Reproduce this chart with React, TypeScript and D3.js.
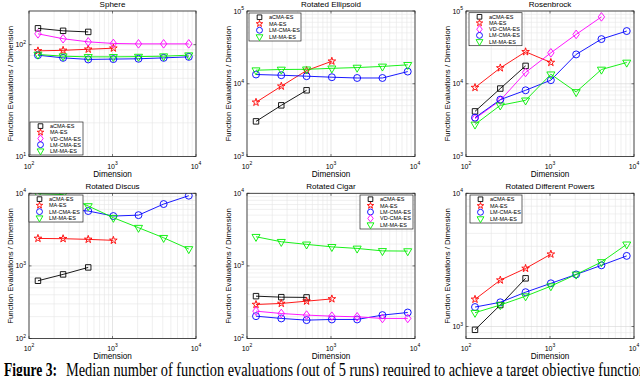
import * as d3 from 'd3';

// problem dimensions on the x axis
const dims = [128, 256, 512, 1024, 2048, 4096, 8192];
const xTickValues = [100, 1000, 10000];

// Sphere
const sphereAcma = [140, 133, 130];
const sphereMa = [88, 89, 91, 93];
const sphereVd = [125, 113, 106, 102.5, 101.7, 101.7, 101.7];
const sphereLmcma = [80.5, 76.2, 73.8, 74.3, 74.8, 76.2, 77.8];
const sphereLmma = [81.7, 78.9, 77.8, 77.8, 78.2, 78.9, 80.5];

// Rotated Ellipsoid
const ellipsoidAcma = [3040, 5050, 8130];
const ellipsoidMa = [5560, 9250, 15200, 20400];
const ellipsoidLmcma = [13400, 13100, 12700, 12300, 12000, 12000, 14700];
const ellipsoidLmma = [15350, 15700, 15800, 16300, 16700, 17300, 18200];

// Rosenbrock
const rosenAcma = [4170, 8590, 17600];
const rosenMa = [8870, 16500, 27500, 19600];
const rosenVd = [3310, 5920, 14300, 26600, 47700, 83000];
const rosenLmcma = [3420, 6050, 8130, 11200, 25300, 41100, 53000];
const rosenLmma = [2760, 5050, 5920, 13500, 7710, 15700, 19600];

// Rotated Discus
const discusAcma = [624, 764, 953];
const discusMa = [2390, 2370, 2320, 2250];
const discusLmcma = [6500, 6000, 5700, 4860, 5000, 7110, 9270];
const discusLmma = [9900, 9600, 6680, 4610, 3360, 2440, 1710];

// Rotated Cigar
const cigarAcma = [383, 371, 368];
const cigarMa = [294, 304, 327, 351];
const cigarLmcma = [203, 189, 179, 183, 183, 210, 228];
const cigarVd = [238, 221, 210, 203, 199, 189, 189];
const cigarLmma = [2520, 2150, 1980, 1830, 1740, 1610, 1600];

// Rotated Different Powers
const powersAcma = [945, 1450, 2300];
const powersMa = [1600, 2230, 2730, 3490];
const powersLmcma = [1400, 1520, 1810, 2110, 2460, 2880, 3390];
const powersLmma = [1270, 1450, 1690, 2010, 2460, 3050, 4140];

const methods: Record<string, { name: string; color: string; marker: string }> = {
  acma: { name: 'aCMA-ES', color: '#000000', marker: 'square' },
  ma: { name: 'MA-ES', color: '#ff0000', marker: 'star' },
  vd: { name: 'VD-CMA-ES', color: '#ff00ff', marker: 'diamond' },
  lmcma: { name: 'LM-CMA-ES', color: '#0000ff', marker: 'circle' },
  lmma: { name: 'LM-MA-ES', color: '#00ee00', marker: 'triangle' },
};

const col = [
  { x0: 29, x1: 196 },
  { x0: 247, x1: 415 },
  { x0: 466, x1: 634 },
];
const row = [
  { y0: 11, y1: 156.5 },
  { y0: 193.3, y1: 338.5 },
];

const panels = [
  {
    title: 'Sphere', c: 0, r: 0, yDomain: [10, 200], yTicks: [10, 100],
    legend: { x: 30, y: 122, w: 53, h: 33 },
    series: [['acma', sphereAcma], ['ma', sphereMa], ['vd', sphereVd], ['lmcma', sphereLmcma], ['lmma', sphereLmma]],
  },
  {
    title: 'Rotated Ellipsoid', c: 1, r: 0, yDomain: [1e3, 1e5], yTicks: [1e3, 1e4, 1e5],
    legend: { x: 249, y: 13, w: 52, h: 28 },
    series: [['acma', ellipsoidAcma], ['ma', ellipsoidMa], ['lmcma', ellipsoidLmcma], ['lmma', ellipsoidLmma]],
  },
  {
    title: 'Rosenbrock', c: 2, r: 0, yDomain: [1e3, 1e5], yTicks: [1e3, 1e4, 1e5],
    legend: { x: 469, y: 12.7, w: 53, h: 33 },
    series: [['acma', rosenAcma], ['ma', rosenMa], ['vd', rosenVd], ['lmcma', rosenLmcma], ['lmma', rosenLmma]],
  },
  {
    title: 'Rotated Discus', c: 0, r: 1, yDomain: [100, 1e4], yTicks: [100, 1e3, 1e4],
    legend: { x: 29, y: 195, w: 54, h: 27 },
    series: [['acma', discusAcma], ['ma', discusMa], ['lmcma', discusLmcma], ['lmma', discusLmma]],
  },
  {
    title: 'Rotated Cigar', c: 1, r: 1, yDomain: [100, 1e4], yTicks: [100, 1e3, 1e4],
    legend: { x: 360, y: 195, w: 53, h: 34 },
    series: [['acma', cigarAcma], ['ma', cigarMa], ['lmcma', cigarLmcma], ['vd', cigarVd], ['lmma', cigarLmma]],
  },
  {
    title: 'Rotated Different Powers', c: 2, r: 1, yDomain: [813, 1e4], yTicks: [1e3, 1e4],
    legend: { x: 470, y: 195, w: 52, h: 28 },
    series: [['acma', powersAcma], ['ma', powersMa], ['lmcma', powersLmcma], ['lmma', powersLmma]],
  },
];

const FONT = 'Liberation Sans, Arial, Helvetica, sans-serif';

function markerPath(kind: string, s: number) {
  if (kind === 'square') return d3.symbol(d3.symbolSquare, 30 * s * s)() as string;
  if (kind === 'star') return d3.symbol(d3.symbolStar, 18 * s * s)() as string;
  if (kind === 'circle') return d3.symbol(d3.symbolCircle, 38 * s * s)() as string;
  if (kind === 'triangle') return d3.symbol(d3.symbolTriangle, 28 * s * s)() as string;
  const w = 3.2 * s, h = 4.3 * s;
  return `M0,${-h}L${w},0L0,${h}L${-w},0Z`;
}

function Marker({ kind, x, y, color, s = 1 }: any) {
  const rot = kind === 'triangle' ? ' rotate(180)' : '';
  return (
    <path d={markerPath(kind, s)} transform={`translate(${x},${y})${rot}`}
      fill="none" stroke={color} strokeWidth={0.9} />
  );
}

function Pow({ v, ...rest }: any) {
  const e = Math.round(Math.log10(v));
  return (
    <text fontFamily={FONT} fill="#000" {...rest}>
      <tspan fontSize={7}>10</tspan>
      <tspan fontSize={5} dy={-3.5}>{e}</tspan>
    </text>
  );
}

function Panel({ p, i }: any) {
  const { x0, x1 } = col[p.c];
  const { y0, y1 } = row[p.r];
  const x = d3.scaleLog().domain([100, 10000]).range([x0, x1]);
  const y = d3.scaleLog().domain(p.yDomain).range([y1, y0]);
  const xMinor = x.ticks();
  const yMinor = y.ticks().filter((t) => t >= p.yDomain[0] && t <= p.yDomain[1]);
  const line = d3.line<number>().x((_, k) => x(dims[k])).y((v) => y(v));
  const cx = (x0 + x1) / 2;
  const cy = (y0 + y1) / 2;
  const lg = p.legend;
  const rowH = (lg.h - 2) / p.series.length;

  return (
    <g>
      <defs>
        <clipPath id={`clip-${i}`}>
          <rect x={x0} y={y0} width={x1 - x0} height={y1 - y0} />
        </clipPath>
      </defs>
      <rect x={x0} y={y0} width={x1 - x0} height={y1 - y0} fill="#fff" />
      {xMinor.map((t) => (
        <line key={`gx${t}`} x1={x(t)} x2={x(t)} y1={y0} y2={y1}
          stroke={xTickValues.includes(t) ? '#d4d4d4' : '#e6e6e6'} strokeWidth={0.6} />
      ))}
      {yMinor.map((t) => (
        <line key={`gy${t}`} x1={x0} x2={x1} y1={y(t)} y2={y(t)}
          stroke={p.yTicks.includes(t) ? '#d4d4d4' : '#e6e6e6'} strokeWidth={0.6} />
      ))}
      <g clipPath={`url(#clip-${i})`}>
        {p.series.map(([key, vals]: any) => (
          <g key={key}>
            <path d={line(vals) as string} fill="none" stroke={methods[key].color} strokeWidth={0.9} />
            {vals.map((v: number, k: number) => (
              <Marker key={k} kind={methods[key].marker} x={x(dims[k])} y={y(v)} color={methods[key].color} />
            ))}
          </g>
        ))}
      </g>
      <rect x={x0} y={y0} width={x1 - x0} height={y1 - y0} fill="none" stroke="#262626" strokeWidth={0.8} />
      {xTickValues.map((t) => (
        <g key={`tx${t}`}>
          <line x1={x(t)} x2={x(t)} y1={y1} y2={y1 - 2.5} stroke="#262626" strokeWidth={0.6} />
          <line x1={x(t)} x2={x(t)} y1={y0} y2={y0 + 2.5} stroke="#262626" strokeWidth={0.6} />
          <Pow v={t} x={x(t)} y={y1 + 12} textAnchor="middle" />
        </g>
      ))}
      {p.yTicks.map((t: number) => (
        <g key={`ty${t}`}>
          <line x1={x0} x2={x0 + 2.5} y1={y(t)} y2={y(t)} stroke="#262626" strokeWidth={0.6} />
          <line x1={x1} x2={x1 - 2.5} y1={y(t)} y2={y(t)} stroke="#262626" strokeWidth={0.6} />
          <Pow v={t} x={x0 - 3} y={y(t) + 2.5} textAnchor="end" />
        </g>
      ))}
      <text x={cx} y={y0 - 4.5} textAnchor="middle" fontFamily={FONT} fontSize={8}>{p.title}</text>
      <text x={cx} y={y1 + 20.5} textAnchor="middle" fontFamily={FONT} fontSize={8.2}>Dimension</text>
      <text transform={`translate(${x0 - 16},${cy}) rotate(-90)`} textAnchor="middle"
        fontFamily={FONT} fontSize={7.8}>Function Evaluations / Dimension</text>
      <rect x={lg.x} y={lg.y} width={lg.w} height={lg.h} fill="#fff" stroke="#262626" strokeWidth={0.7} />
      {p.series.map(([key]: any, k: number) => {
        const ly = lg.y + 1 + rowH * (k + 0.5);
        return (
          <g key={`lg${key}`}>
            <Marker kind={methods[key].marker} x={lg.x + 10.5} y={ly} color={methods[key].color} s={0.85} />
            <text x={lg.x + 20} y={ly + 2} fontFamily={FONT} fontSize={5.5}>{methods[key].name}</text>
          </g>
        );
      })}
    </g>
  );
}

export default function App() {
  return (
    <div style={{ position: 'absolute', left: 0, top: 0 }}>
      <svg width={640} height={376} viewBox="0 0 640 376" style={{ display: 'block', background: '#fff' }}>
        <rect width={640} height={376} fill="#fff" />
        {panels.map((p, i) => (
          <Panel key={p.title} p={p} i={i} />
        ))}
        <text x={4} y={375.5} fontFamily="Liberation Serif, Times New Roman, serif" fontWeight="bold"
          fontSize={19} textLength={53} lengthAdjust="spacingAndGlyphs">Figure 3:</text>
        <text x={66} y={375.5} fontFamily="Liberation Serif, Times New Roman, serif" fontSize={19}
          textLength={580} lengthAdjust="spacingAndGlyphs">
          Median number of function evaluations (out of 5 runs) required to achieve a target objective function
        </text>
      </svg>
    </div>
  );
}
